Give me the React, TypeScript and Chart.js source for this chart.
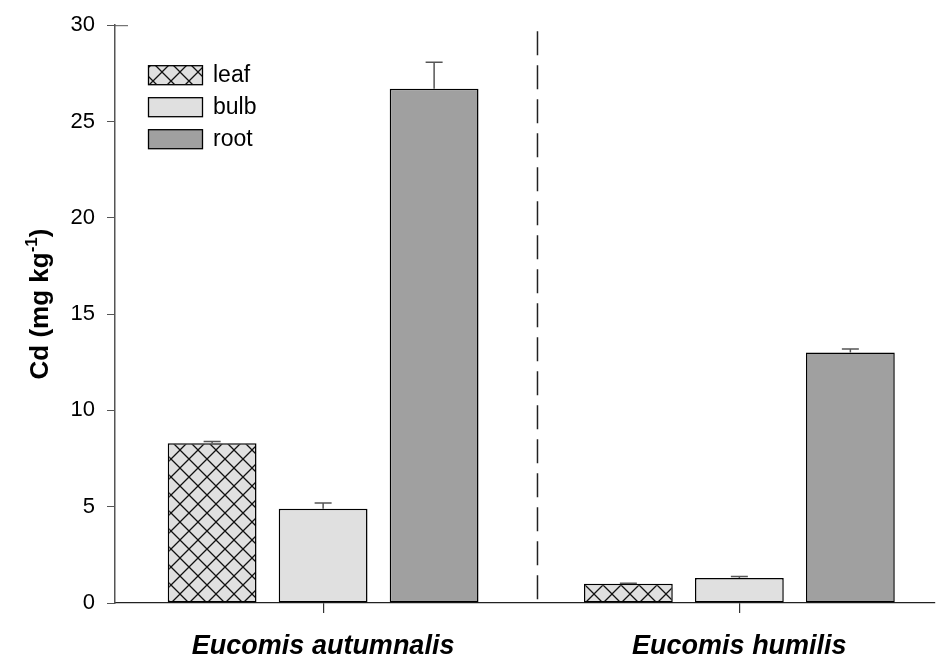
import React, { useEffect, useRef } from "react";
import { Chart, registerables } from "chart.js";
Chart.register(...registerables);

const categories = ["Eucomis autumnalis", "Eucomis humilis"];
const categoryPositions = [0, 1];
const seriesNames = ["leaf", "bulb", "root"];
const leafValues = [8.3, 1.0];
const bulbValues = [4.9, 1.3];
const rootValues = [26.7, 13.0];
const leafErrors = [0.08, 0.03];
const bulbErrors = [0.29, 0.08];
const rootErrors = [1.38, 0.19];
const yMin = 0;
const yMax = 30;
const yStep = 5;
const separatorPosition = 0.515;

const FONT = "'Liberation Sans', Arial, Helvetica, sans-serif";

function makeHatch(): CanvasPattern | string {
  const c = document.createElement("canvas");
  c.width = 18;
  c.height = 18;
  const g = c.getContext("2d");
  if (!g) return "#e0e0e0";
  g.fillStyle = "#e0e0e0";
  g.fillRect(0, 0, 18, 18);
  g.strokeStyle = "#111";
  g.lineWidth = 1.3;
  g.beginPath();
  g.moveTo(-1, -1);
  g.lineTo(19, 19);
  g.moveTo(19, -1);
  g.lineTo(-1, 19);
  g.stroke();
  return g.createPattern(c, "repeat") || "#e0e0e0";
}

export default function App() {
  const ref = useRef<HTMLCanvasElement | null>(null);

  useEffect(() => {
    document.body.style.margin = "0";
    if (!ref.current) return;
    const hatch = makeHatch();
    const valueSets = [leafValues, bulbValues, rootValues];
    const errorSets = [leafErrors, bulbErrors, rootErrors];
    const fills: any[] = [hatch, "#e0e0e0", "#a0a0a0"];

    const overlay = {
      id: "overlay",
      afterDatasetsDraw(chart: any) {
        const ctx = chart.ctx as CanvasRenderingContext2D;
        const ys = chart.scales.y;
        const xs = chart.scales.x;
        const area = chart.chartArea;
        ctx.save();
        chart.data.datasets.forEach((_ds: any, di: number) => {
          const meta = chart.getDatasetMeta(di);
          meta.data.forEach((bar: any, i: number) => {
            const v = valueSets[di][i];
            const top = ys.getPixelForValue(v);
            const up = ys.getPixelForValue(v + errorSets[di][i]);
            ctx.strokeStyle = "#555";
            ctx.lineWidth = 1.5;
            ctx.beginPath();
            ctx.moveTo(bar.x, top);
            ctx.lineTo(bar.x, up);
            ctx.moveTo(bar.x - 8.5, up);
            ctx.lineTo(bar.x + 8.5, up);
            ctx.stroke();
          });
        });
        const sx = xs.getPixelForValue(separatorPosition);
        ctx.strokeStyle = "#222";
        ctx.lineWidth = 1.5;
        ctx.setLineDash([24, 10]);
        ctx.beginPath();
        ctx.moveTo(sx, area.top + 6);
        ctx.lineTo(sx, area.bottom - 2);
        ctx.stroke();
        ctx.setLineDash([]);
        ctx.strokeStyle = "#555";
        ctx.lineWidth = 1;
        ctx.beginPath();
        ctx.moveTo(area.left, ys.getPixelForValue(yMax) + 0.5);
        ctx.lineTo(area.left + 13, ys.getPixelForValue(yMax) + 0.5);
        ctx.stroke();
        ctx.restore();
      },
      afterDraw(chart: any) {
        const ctx = chart.ctx as CanvasRenderingContext2D;
        const area = chart.chartArea;
        ctx.save();
        const lx = area.left + 33;
        const ly = area.top + 40;
        chart.data.datasets.forEach((ds: any, i: number) => {
          const y0 = ly + i * 32;
          ctx.fillStyle = ds.backgroundColor;
          ctx.fillRect(lx, y0, 54, 19);
          ctx.strokeStyle = "#000";
          ctx.lineWidth = 1.3;
          ctx.strokeRect(lx + 0.5, y0 + 0.5, 54, 19);
          ctx.fillStyle = "#000";
          ctx.font = `23px ${FONT}`;
          ctx.textBaseline = "middle";
          ctx.textAlign = "left";
          ctx.fillText(ds.label, lx + 65, y0 + 10);
        });
        ctx.translate(48, 304);
        ctx.rotate(-Math.PI / 2);
        ctx.textBaseline = "alphabetic";
        ctx.textAlign = "left";
        const a = "Cd (mg kg";
        const sup = "-1";
        const b = ")";
        ctx.font = `bold 26px ${FONT}`;
        const wa = ctx.measureText(a).width;
        const wb = ctx.measureText(b).width;
        ctx.font = `bold 17px ${FONT}`;
        const ws = ctx.measureText(sup).width;
        const total = wa + ws + wb;
        let x0 = -total / 2;
        ctx.fillStyle = "#000";
        ctx.font = `bold 26px ${FONT}`;
        ctx.fillText(a, x0, 0);
        x0 += wa;
        ctx.font = `bold 17px ${FONT}`;
        ctx.fillText(sup, x0, -11);
        x0 += ws;
        ctx.font = `bold 26px ${FONT}`;
        ctx.fillText(b, x0, 0);
        ctx.restore();
      },
    };

    const chart = new Chart(ref.current, {
      type: "bar",
      data: {
        datasets: seriesNames.map((name, di) => ({
          label: name,
          data: categoryPositions.map((p, i) => ({ x: p, y: valueSets[di][i] })),
          backgroundColor: fills[di],
          borderColor: "#000",
          borderWidth: 1.5,
          borderSkipped: false,
          categoryPercentage: 0.8,
          barPercentage: 0.8,
        })),
      },
      options: {
        animation: false,
        responsive: true,
        maintainAspectRatio: false,
        layout: { padding: { top: 24, right: 1, left: 0, bottom: 0 } },
        plugins: { legend: { display: false }, tooltip: { enabled: false } },
        scales: {
          x: {
            type: "linear",
            offset: false,
            min: -0.5,
            max: 1.47,
            afterBuildTicks: (scale: any) => {
              scale.ticks = categoryPositions.map((v) => ({ value: v }));
            },
            afterFit: (scale: any) => {
              scale.height = 57;
            },
            ticks: {
              autoSkip: false,
              maxRotation: 0,
              padding: 17,
              color: "#000",
              font: { family: FONT, size: 27, weight: "bold", style: "italic" },
              callback: (value: any) => {
                const idx = categoryPositions.indexOf(Number(value));
                return idx >= 0 ? categories[idx] : "";
              },
            },
            grid: { display: true, offset: false, drawOnChartArea: false, tickLength: 10, color: "#333", lineWidth: 1.2 },
            border: { display: true, color: "#222", width: 1.2 },
          },
          y: {
            min: yMin,
            max: yMax,
            afterFit: (scale: any) => {
              scale.width = 115;
            },
            ticks: {
              stepSize: yStep,
              padding: 12,
              color: "#000",
              font: { family: FONT, size: 22 },
            },
            grid: { display: true, drawOnChartArea: false, tickLength: 8, color: "#555", lineWidth: 1 },
            border: { display: true, color: "#555", width: 1.5 },
          },
        },
      } as any,
      plugins: [overlay],
    });
    return () => chart.destroy();
  }, []);

  return (
    <div style={{ width: 936, height: 660, position: "relative" }}>
      <canvas ref={ref} />
    </div>
  );
}
